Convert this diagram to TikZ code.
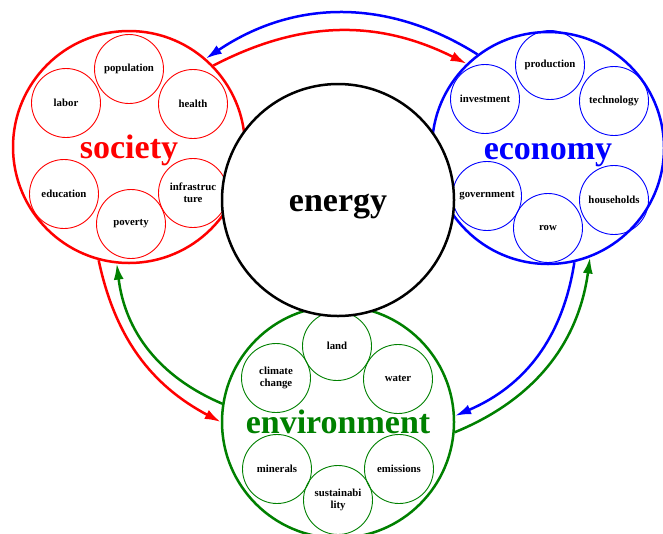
\documentclass[tikz,border=0pt]{standalone}
\usepackage{fontspec}
\setmainfont{Liberation Serif}
\usetikzlibrary{arrows.meta}
\definecolor{dkgreen}{rgb}{0,0.5,0}
\begin{document}
\begin{tikzpicture}[x=1pt,y=-1pt,
  big/.style={circle,line width=2.5pt,minimum size=232pt,inner sep=0pt,text height=23pt,text depth=0pt,font=\fontsize{34}{36}\selectfont\bfseries},
  part/.style={circle,draw,line width=0.9pt,minimum size=69pt,inner sep=0pt,align=center,text=black,font=\fontsize{10.8}{12}\selectfont\bfseries},
  flow/.style={line width=2.5pt,-{Latex[length=16pt,width=10pt]}}]
\useasboundingbox (0,0) rectangle (663,533);
\node[big,draw=red,text=red] (society) at (129,147) {society};
\node[big,draw=blue,text=blue] (economy) at (548,148) {economy};
\node[big,draw=dkgreen,text=dkgreen] (environment) at (338,422) {environment};
\foreach \nm/\a/\b/\txt in {population/129/69/population, labor/66/103/labor, health/193/104/health,
  education/64/194/education, poverty/131/224/poverty, infra/193/193/{infrastruc\\ture}} % edit here for society
\node[part,draw=red] (\nm) at (\a,\b) {\txt};
\foreach \nm/\a/\b/\txt in {production/550/65/production, investment/485/99/investment, technology/614/101/technology,
  government/487/196/government, row/548/228/row, households/614/200/households} % edit here for economy
\node[part,draw=blue] (\nm) at (\a,\b) {\txt};
\foreach \nm/\a/\b/\txt in {land/337/346/land, climate/276/378/{climate\\change}, water/398/379/water,
  minerals/277/469/minerals, emissions/399/469/emissions, sustain/338/500/{sustainabi\\lity}} % edit here for environment
\node[part,draw=dkgreen] (\nm) at (\a,\b) {\txt};
\node[big,draw=black,fill=white] (energy) at (338,200) {energy};
% edit here for the flows
\draw[flow,blue] (economy.127) to[bend right=33] (society.49);
\draw[flow,red] (society.44) to[bend left=27] (economy.134);
\draw[flow,red] (society.255) to[bend right=25] (environment.180);
\draw[flow,dkgreen] (environment.171) to[bend left=30] (society.264);
\draw[flow,blue] (economy.283) to[bend left=29] (environment.3);
\draw[flow,dkgreen] (environment.355) to[bend right=30] (economy.291);
\end{tikzpicture}
\end{document}
